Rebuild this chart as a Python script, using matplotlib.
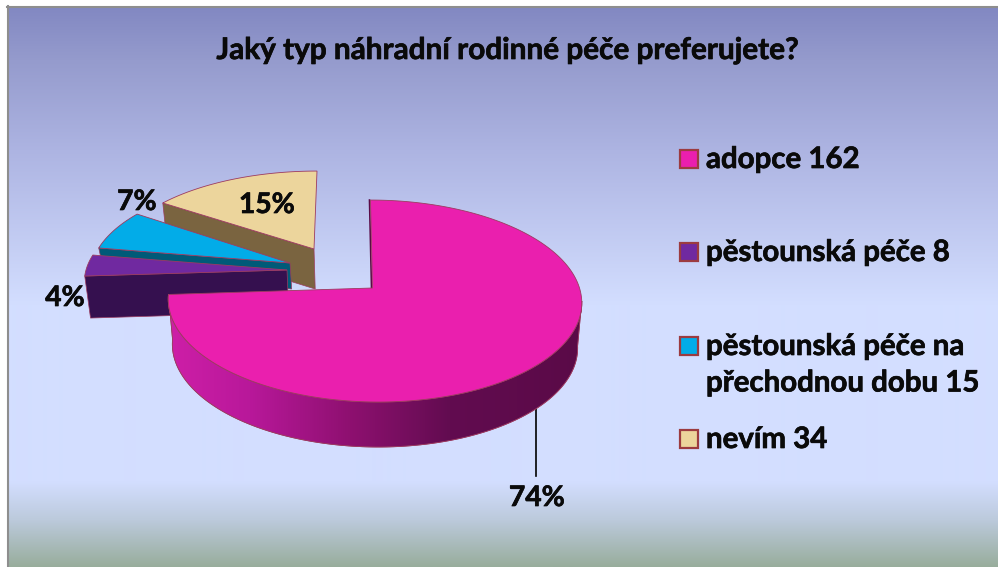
import numpy as np
import matplotlib
matplotlib.use('Agg')
import matplotlib.pyplot as plt
import matplotlib.patheffects as pe
from matplotlib.colors import to_rgb
from matplotlib.patches import Polygon, Rectangle

plt.rcParams['font.family'] = ['Lato', 'DejaVu Sans']

title = 'Jaký typ náhradní rodinné péče preferujete?'
categories = ['adopce', 'pěstounská péče', 'pěstounská péče na\npřechodnou dobu', 'nevím']
values = [162, 8, 15, 34]
percent_labels = ['74%', '4%', '7%', '15%']

top_colors = ['#ea1fae', '#7029a0', '#02ace8', '#ecd59c']
side_colors = ['#5a0a47', '#35104f', '#005a78', '#7a6440']
edge_color = '#9c3b60'

# apex x, apex y, radius x, radius y, shear, depth, rim shift
layout = [
    (372.5, 288, 205, 99.3, -4, 45, 2.0),
    (287, 270, 201, 93, 0, 42, 0),
    (290, 263, 198, 93.5, 0, 26, 0),
    (314, 249, 198, 88, 3, 40, 0),
]
persp = 0.129
vanish_x = 374
lean = 0.02
bold = [pe.withStroke(linewidth=0.5, foreground='#0a0a0a')]


def rim(theta, ax, ay, rx, ry, shear, dx):
    u = np.sin(theta)
    v = np.cos(theta)
    s = 1 / (1 + persp * v)
    return ax + dx + rx * u * s + shear * v, ay - ry * v * s


def lower(x, y, depth):
    return x + (vanish_x - x) * lean, y + depth


def gradient(stops, n=256):
    pos = [p for p, c in stops]
    rgb = np.array([to_rgb(c) for p, c in stops])
    t = np.linspace(pos[0], pos[-1], n)
    return np.stack([np.interp(t, pos, rgb[:, i]) for i in range(3)], axis=-1)


fig = plt.figure(figsize=(9.98, 5.67), dpi=100, facecolor='white')
ax = fig.add_axes([0, 0, 1, 1])
ax.set_xlim(0, 998)
ax.set_ylim(567, 0)
ax.axis('off')

# tlo
bg = gradient([(7, '#8288c2'), (60, '#959bcd'), (150, '#adb4e2'), (305, '#d3deff'),
               (482, '#d3deff'), (520, '#bccadc'), (567, '#98ad9c')], 560)
ax.imshow(bg[:, None, :], extent=[9, 998, 567, 7], aspect='auto', interpolation='bilinear', zorder=0)
ax.plot([8, 8], [6, 567], color='#8e8e8e', lw=1.5, zorder=1)
ax.plot([7, 998], [6.5, 6.5], color='#8e8e8e', lw=1.5, zorder=1)
ax.set_xlim(0, 998)
ax.set_ylim(567, 0)

# uhly z hodnot
total = sum(values)
edges = np.concatenate([[0], np.cumsum(values)]) / total * 2 * np.pi

# poradi kresleni: vzadu nevim, vepredu adopce
for i in [3, 2, 1, 0]:
    ax0, ay0, rx, ry, shear, depth, dx = layout[i]
    t = np.linspace(edges[i], edges[i + 1], 200)
    x, y = rim(t, ax0, ay0, rx, ry, shear, dx)
    zo = 3 + (3 - i)

    if i == 0:
        # bocni stena adopce s prechodem
        ts = np.linspace(np.pi / 2 + persp, edges[1], 200)
        xs, ys = rim(ts, ax0, ay0, rx, ry, shear, dx)
        xb, yb = lower(xs, ys, depth)
        side = Polygon(np.r_[np.c_[xs, ys], np.c_[xb, yb][::-1]], closed=True, fc='none', ec=edge_color, lw=0.6, zorder=zo)
        ax.add_patch(side)
        g = gradient([(165, '#cf1fa8'), (250, '#b8189a'), (350, '#8e1070'), (450, '#620c50'), (585, '#5a0a47')])
        im = ax.imshow(g[None, :, :], extent=[165, 585, 450, 290], aspect='auto', zorder=zo)
        im.set_clip_path(side)
        ax.add_patch(Polygon(np.r_[np.c_[xs, ys], np.c_[xb, yb][::-1]], closed=True, fc='none', ec=edge_color, lw=0.6, zorder=zo))
        # tenka hrana u rezu nahore
        ax.plot([x[0] - 1, ax0 - 1], [y[0], ay0], color='#5a0a47', lw=1.2, zorder=zo)
    else:
        # predni rezna stena
        bl = lower(x[0], y[0], depth)
        ba = lower(ax0, ay0, depth)
        ax.add_patch(Polygon([(x[0], y[0]), (ax0, ay0), ba, bl], closed=True, fc=side_colors[i], ec=edge_color, lw=0.5, zorder=zo))

    ax.add_patch(Polygon(np.r_[[[ax0, ay0]], np.c_[x, y]], closed=True, fc=top_colors[i], ec=edge_color, lw=0.6, zorder=zo + 0.5))

# popisky procent
label_pos = [(537, 498), (65, 298), (137, 202), (267, 205)]
for pct, (lx, ly) in zip(percent_labels, label_pos):
    ax.text(lx, ly, pct, ha='center', va='center', fontsize=20.3, fontweight='bold', color='#0a0a0a', zorder=10, path_effects=bold)
ax.plot([536, 536], [405, 476], color='black', lw=1.2, zorder=2)

# legenda
legend_y = [150, 243, 337, 430]
for i, name in enumerate(categories):
    ax.add_patch(Rectangle((680, legend_y[i]), 18, 18, fc=top_colors[i], ec='#9c3b40', lw=1.6, zorder=10))
    ax.text(706, legend_y[i] - 3, f'{name} {values[i]}', ha='left', va='top', fontsize=21.2, fontweight='bold',
            color='#0a0a0a', linespacing=1.5, zorder=10, path_effects=bold)

ax.text(508, 50, title, ha='center', va='center', fontsize=21.4, fontweight='bold', color='#0a0a0a', zorder=10, path_effects=bold)

fig.savefig('out.png', dpi=100)
